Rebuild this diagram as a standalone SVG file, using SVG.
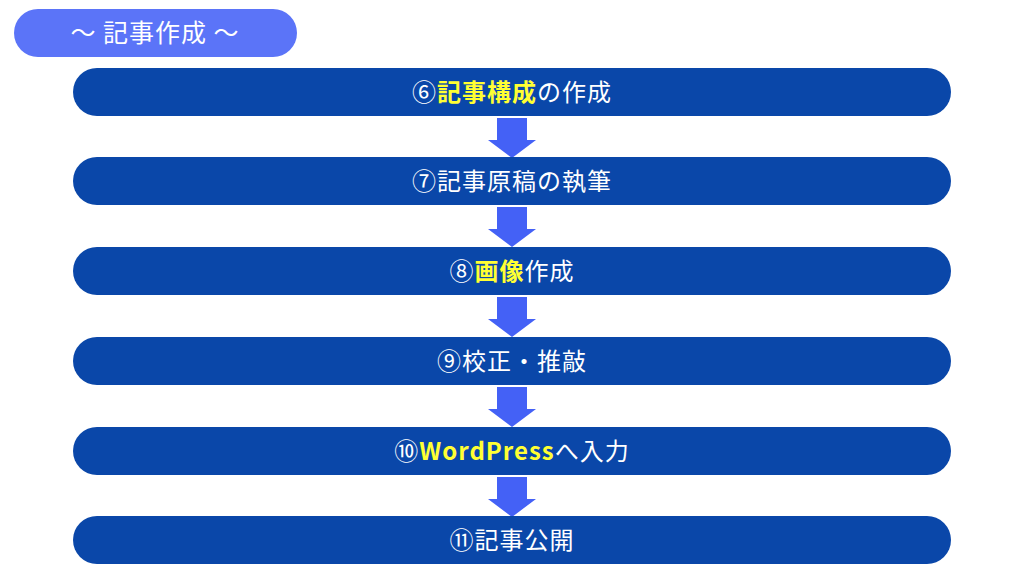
<svg xmlns="http://www.w3.org/2000/svg" width="1024" height="575" viewBox="0 0 1024 575">
<defs>
<style>
.bar{fill:#0A47A9}
.t{font-family:"Noto Sans CJK JP","Noto Sans",sans-serif;font-size:24px;letter-spacing:1px;fill:#ffffff;text-anchor:middle}
.h{fill:#FFFF33;font-weight:bold}
.arr{fill:#4461F6}
</style>
<path id="a" d="M497 0 H527 V22 H536 L512 40 L488 22 H497 Z"/>
</defs>
<rect width="1024" height="575" fill="#ffffff"/>
<g id="header">
<rect x="14" y="9" width="283" height="48" rx="24" fill="#5B74F8"/>
<text class="t" x="155" y="42" style="font-size:25px">〜 記事作成 〜</text>
</g>
<g id="connectors" class="arr">
<use href="#a" y="118"/>
<use href="#a" y="207"/>
<use href="#a" y="297"/>
<use href="#a" y="387"/>
<use href="#a" y="477"/>
</g>
<g id="n6">
<rect class="bar" x="73" y="68" width="878" height="48" rx="24"/>
<text class="t" x="512" y="101">⑥<tspan class="h">記事構成</tspan>の作成</text>
</g>
<g id="n7">
<rect class="bar" x="73" y="157" width="878" height="48" rx="24"/>
<text class="t" x="512" y="190">⑦記事原稿の執筆</text>
</g>
<g id="n8">
<rect class="bar" x="73" y="247" width="878" height="48" rx="24"/>
<text class="t" x="512" y="280">⑧<tspan class="h">画像</tspan>作成</text>
</g>
<g id="n9">
<rect class="bar" x="73" y="337" width="878" height="48" rx="24"/>
<text class="t" x="512" y="370">⑨校正・推敲</text>
</g>
<g id="n10">
<rect class="bar" x="73" y="427" width="878" height="48" rx="24"/>
<text class="t" x="512" y="460">⑩<tspan class="h">WordPress</tspan>へ入力</text>
</g>
<g id="n11">
<rect class="bar" x="73" y="516" width="878" height="48" rx="24"/>
<text class="t" x="512" y="549">⑪記事公開</text>
</g>
</svg>
